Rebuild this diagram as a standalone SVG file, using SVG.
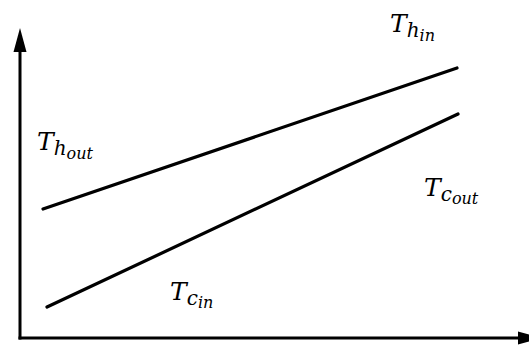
<svg xmlns="http://www.w3.org/2000/svg" width="529" height="348" viewBox="0 0 529 348">
<style>
.ax{stroke:#000;stroke-width:3;fill:none}
.ln{stroke:#000;stroke-width:3.2;fill:none;stroke-linecap:round}
.lbl{font-family:"DejaVu Serif","Liberation Serif",serif;font-style:italic;fill:#000}
.m{font-size:25px}
.s{font-size:20px}
.ss{font-size:16px}
</style>
<defs>
<marker id="ah" markerUnits="userSpaceOnUse" markerWidth="26" markerHeight="14" viewBox="0 0 26 14" refX="0" refY="7" orient="auto" overflow="visible">
<path d="M0,0.5 L24,7 L0,13.5 Z" fill="#000"/>
</marker>
</defs>
<g id="axes">
<path class="ax" d="M20,339.5 L20,52" marker-end="url(#ah)"/>
<path class="ax" d="M18.5,338 L518,338" marker-end="url(#ah)"/>
</g>
<g id="connectors">
<line id="hot" class="ln" x1="43" y1="209" x2="457" y2="68"/>
<line id="cold" class="ln" x1="47" y1="307" x2="458" y2="114"/>
</g>
<g id="label-th-in"><text class="lbl" x="390" y="32"><tspan class="m">T</tspan><tspan class="s" dy="5">h</tspan><tspan class="ss" dy="4">in</tspan></text></g>
<g id="label-th-out"><text class="lbl" x="37" y="150"><tspan class="m">T</tspan><tspan class="s" dy="5">h</tspan><tspan class="ss" dy="4">out</tspan></text></g>
<g id="label-tc-out"><text class="lbl" x="424" y="196"><tspan class="m">T</tspan><tspan class="s" dy="5">c</tspan><tspan class="ss" dy="3">out</tspan></text></g>
<g id="label-tc-in"><text class="lbl" x="170" y="300"><tspan class="m">T</tspan><tspan class="s" dy="5">c</tspan><tspan class="ss" dy="3">in</tspan></text></g>
</svg>
